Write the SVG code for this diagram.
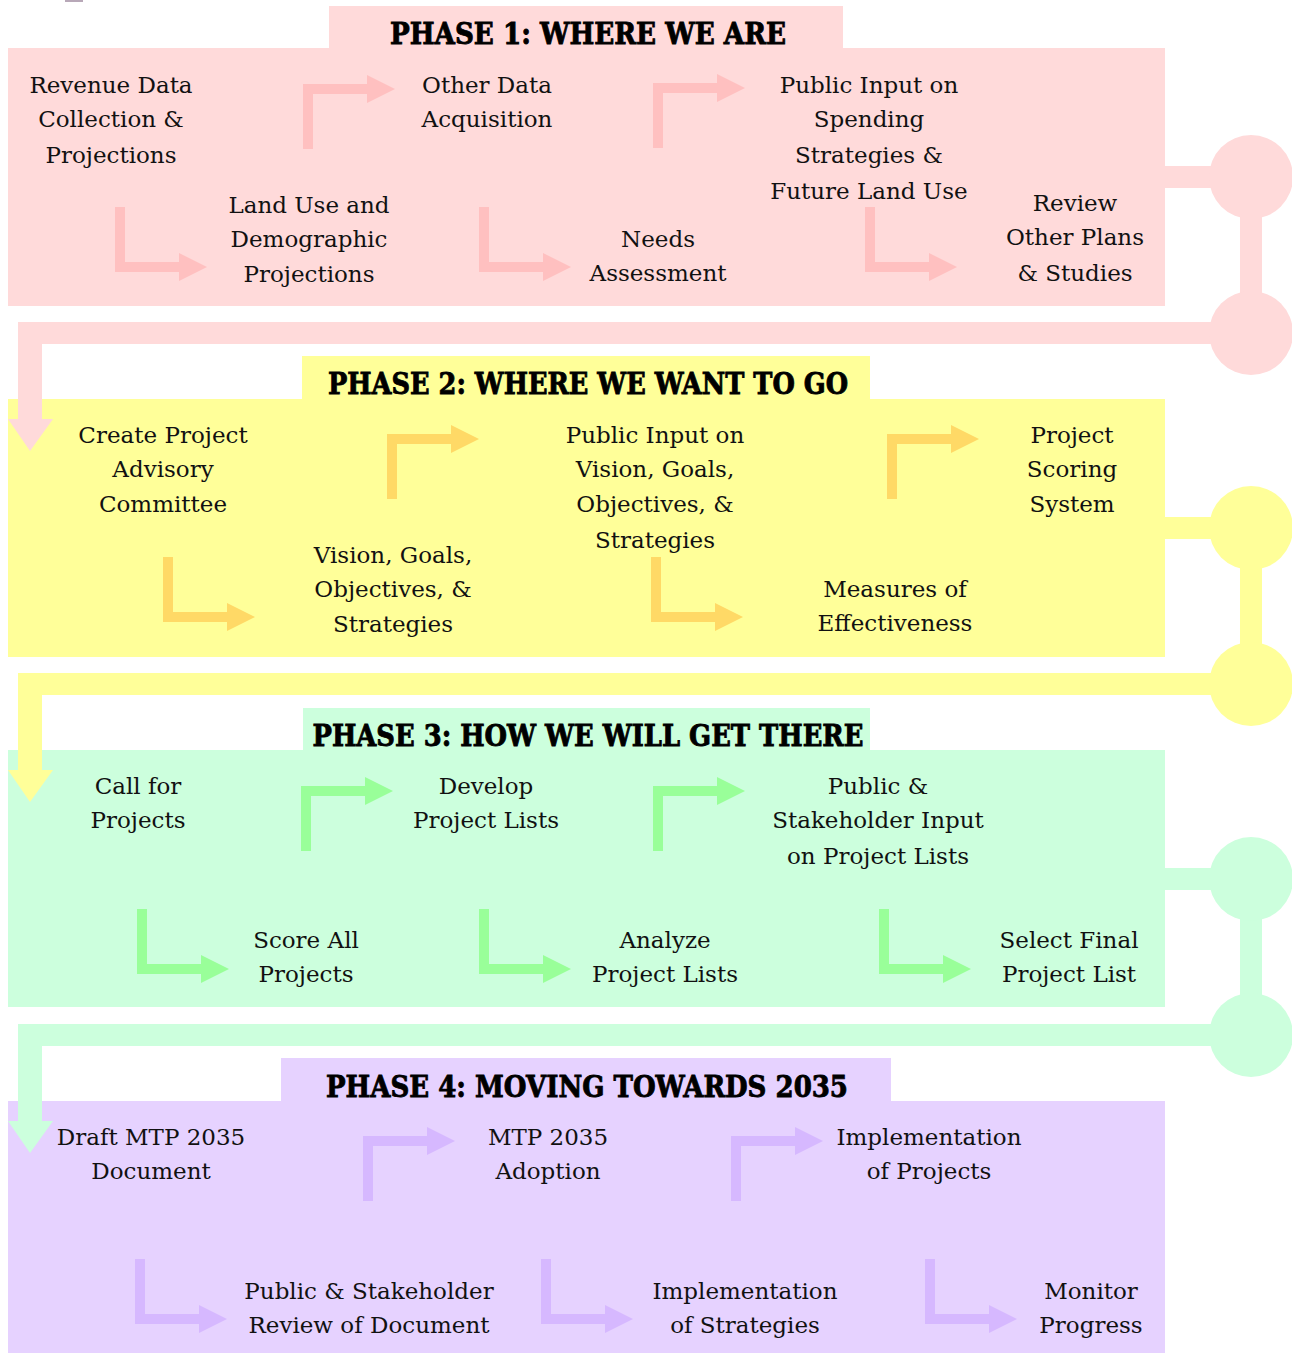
<svg xmlns="http://www.w3.org/2000/svg" xmlns:xlink="http://www.w3.org/1999/xlink" width="1292" height="1353" viewBox="0 0 1292 1353">
<style>
.t{font-family:"DejaVu Serif","Liberation Serif",serif;font-size:23px;fill:#111;text-anchor:middle}
.h{font-family:"DejaVu Serif","Liberation Serif",serif;font-size:30px;font-weight:bold;fill:#000;stroke:#000;stroke-width:0.9;text-anchor:middle}
.p1{fill:#FFDADA}.a1{fill:#FFC0C0}
.p2{fill:#FFFF99}.a2{fill:#FFD966}
.p3{fill:#CCFFDD}.a3{fill:#99FF99}
.p4{fill:#E6D2FF}.a4{fill:#D6B8FF}
</style>
<defs>
<path id="ur" d="M0,65 V0 H64 V-9 L92,5 L64,19 V10 H10 V65 Z"/>
<path id="dr" d="M0,0 H10 V55 H64 V46 L92,60 L64,74 V65 H0 Z"/>
<path id="link" d="M1165,-11 H1215 V11 H1165 Z M1240,0 H1262 V156 H1240 Z M18,145 H1240 V167 H42 V242 H53 L30,274 L8,242 H18 Z"/>
</defs>
<rect x="65" y="0" width="18" height="2" fill="#B8A8B8"/>

<g id="phase1">
<rect class="p1" x="8" y="48" width="1157" height="258"/>
<rect class="p1" x="329" y="6" width="514" height="43"/>
<text class="h" x="588" y="44" textLength="396" lengthAdjust="spacingAndGlyphs">PHASE 1: WHERE WE ARE</text>
</g>
<g id="phase2">
<rect class="p2" x="8" y="399" width="1157" height="258"/>
<rect class="p2" x="302" y="356" width="568" height="44"/>
<text class="h" x="588" y="394" textLength="520" lengthAdjust="spacingAndGlyphs">PHASE 2: WHERE WE WANT TO GO</text>
</g>
<g id="phase3">
<rect class="p3" x="8" y="750" width="1157" height="257"/>
<rect class="p3" x="303" y="708" width="567" height="43"/>
<text class="h" x="588" y="746" textLength="551" lengthAdjust="spacingAndGlyphs">PHASE 3: HOW WE WILL GET THERE</text>
</g>
<g id="phase4">
<rect class="p4" x="8" y="1101" width="1157" height="252"/>
<rect class="p4" x="281" y="1058" width="610" height="44"/>
<text class="h" x="587" y="1097" textLength="522" lengthAdjust="spacingAndGlyphs">PHASE 4: MOVING TOWARDS 2035</text>
</g>

<g id="connectors">
<g class="a1">
<use xlink:href="#ur" x="303" y="84"/>
<use xlink:href="#ur" x="653" y="83"/>
<use xlink:href="#dr" x="115" y="207"/>
<use xlink:href="#dr" x="479" y="207"/>
<use xlink:href="#dr" x="865" y="207"/>
</g>
<g class="a2">
<use xlink:href="#ur" x="387" y="434"/>
<use xlink:href="#ur" x="887" y="434"/>
<use xlink:href="#dr" x="163" y="557"/>
<use xlink:href="#dr" x="651" y="557"/>
</g>
<g class="a3">
<use xlink:href="#ur" x="301" y="786"/>
<use xlink:href="#ur" x="653" y="786"/>
<use xlink:href="#dr" x="137" y="909"/>
<use xlink:href="#dr" x="479" y="909"/>
<use xlink:href="#dr" x="879" y="909"/>
</g>
<g class="a4">
<use xlink:href="#ur" x="363" y="1136"/>
<use xlink:href="#ur" x="731" y="1136"/>
<use xlink:href="#dr" x="135" y="1259"/>
<use xlink:href="#dr" x="541" y="1259"/>
<use xlink:href="#dr" x="925" y="1259"/>
</g>
<g class="p1">
<use xlink:href="#link" x="0" y="177"/>
<circle cx="1251" cy="177" r="42"/><circle cx="1251" cy="333" r="42"/>
</g>
<g class="p2">
<use xlink:href="#link" x="0" y="528"/>
<circle cx="1251" cy="528" r="42"/><circle cx="1251" cy="684" r="42"/>
</g>
<g class="p3">
<use xlink:href="#link" x="0" y="879"/>
<circle cx="1251" cy="879" r="42"/><circle cx="1251" cy="1035" r="42"/>
</g>
</g>

<g id="n-revenue"><text class="t" x="111" y="93">Revenue Data</text><text class="t" x="111" y="127">Collection &amp;</text><text class="t" x="111" y="163">Projections</text></g>
<g id="n-otherdata"><text class="t" x="487" y="93">Other Data</text><text class="t" x="487" y="127">Acquisition</text></g>
<g id="n-publicinput1"><text class="t" x="869" y="93">Public Input on</text><text class="t" x="869" y="127">Spending</text><text class="t" x="869" y="163">Strategies &amp;</text><text class="t" x="869" y="199">Future Land Use</text></g>
<g id="n-landuse"><text class="t" x="309" y="213">Land Use and</text><text class="t" x="309" y="247">Demographic</text><text class="t" x="309" y="282">Projections</text></g>
<g id="n-needs"><text class="t" x="658" y="247">Needs</text><text class="t" x="658" y="281">Assessment</text></g>
<g id="n-review"><text class="t" x="1075" y="211">Review</text><text class="t" x="1075" y="245">Other Plans</text><text class="t" x="1075" y="281">&amp; Studies</text></g>

<g id="n-advisory"><text class="t" x="163" y="443">Create Project</text><text class="t" x="163" y="477">Advisory</text><text class="t" x="163" y="512">Committee</text></g>
<g id="n-publicinput2"><text class="t" x="655" y="443">Public Input on</text><text class="t" x="655" y="477">Vision, Goals,</text><text class="t" x="655" y="512">Objectives, &amp;</text><text class="t" x="655" y="548">Strategies</text></g>
<g id="n-scoring"><text class="t" x="1072" y="443">Project</text><text class="t" x="1072" y="477">Scoring</text><text class="t" x="1072" y="512">System</text></g>
<g id="n-vision"><text class="t" x="393" y="563">Vision, Goals,</text><text class="t" x="393" y="597">Objectives, &amp;</text><text class="t" x="393" y="632">Strategies</text></g>
<g id="n-measures"><text class="t" x="895" y="597">Measures of</text><text class="t" x="895" y="631">Effectiveness</text></g>

<g id="n-call"><text class="t" x="138" y="794">Call for</text><text class="t" x="138" y="828">Projects</text></g>
<g id="n-develop"><text class="t" x="486" y="794">Develop</text><text class="t" x="486" y="828">Project Lists</text></g>
<g id="n-publicinput3"><text class="t" x="878" y="794">Public &amp;</text><text class="t" x="878" y="828">Stakeholder Input</text><text class="t" x="878" y="864">on Project Lists</text></g>
<g id="n-score"><text class="t" x="306" y="948">Score All</text><text class="t" x="306" y="982">Projects</text></g>
<g id="n-analyze"><text class="t" x="665" y="948">Analyze</text><text class="t" x="665" y="982">Project Lists</text></g>
<g id="n-select"><text class="t" x="1069" y="948">Select Final</text><text class="t" x="1069" y="982">Project List</text></g>

<g id="n-draft"><text class="t" x="151" y="1145">Draft MTP 2035</text><text class="t" x="151" y="1179">Document</text></g>
<g id="n-adoption"><text class="t" x="548" y="1145">MTP 2035</text><text class="t" x="548" y="1179">Adoption</text></g>
<g id="n-implproj"><text class="t" x="929" y="1145">Implementation</text><text class="t" x="929" y="1179">of Projects</text></g>
<g id="n-review4"><text class="t" x="369" y="1299">Public &amp; Stakeholder</text><text class="t" x="369" y="1333">Review of Document</text></g>
<g id="n-implstrat"><text class="t" x="745" y="1299">Implementation</text><text class="t" x="745" y="1333">of Strategies</text></g>
<g id="n-monitor"><text class="t" x="1091" y="1299">Monitor</text><text class="t" x="1091" y="1333">Progress</text></g>
</svg>
